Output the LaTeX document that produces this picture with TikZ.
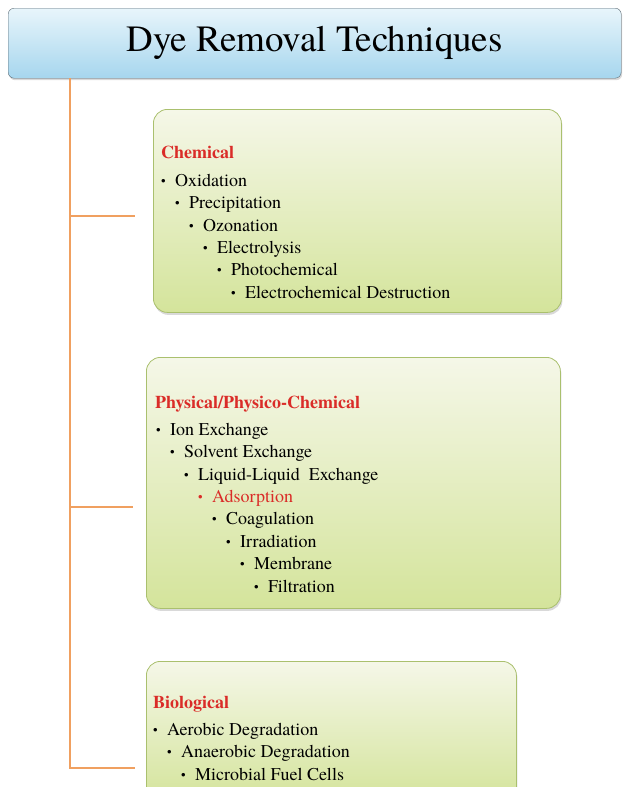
\documentclass[tikz,border=0pt]{standalone}
\usepackage{fontspec}
\setmainfont{texgyretermes}[Extension=.otf, UprightFont=*-regular, BoldFont=*-bold, ItalicFont=*-italic, BoldItalicFont=*-bolditalic]
\usepackage{xcolor}
\usetikzlibrary{shadows}
\definecolor{dyeRed}{RGB}{218,44,40}
\definecolor{dyeOrange}{RGB}{240,160,96}
\definecolor{dyeBlueTop}{RGB}{232,245,251}
\definecolor{dyeBlueBot}{RGB}{166,214,238}
\definecolor{dyeGreenTop}{RGB}{245,247,232}
\definecolor{dyeGreenBot}{RGB}{212,228,155}
\definecolor{dyeGreenLine}{RGB}{170,192,110}
\definecolor{dyeGrey}{RGB}{90,105,115}
\newcommand{\bul}{\makebox[14pt][l]{\raisebox{1pt}{\fontsize{13}{13}\selectfont\textbullet}}}

\begin{document}
\begin{tikzpicture}[
    x=1pt, y=-1pt,
    header/.style={rectangle, rounded corners=6pt, draw=dyeGrey, top color=dyeBlueTop, bottom color=dyeBlueBot, drop shadow={shadow xshift=1pt, shadow yshift=-2pt, opacity=0.3}, minimum width=613pt, minimum height=70pt, font=\fontsize{37}{37}\selectfont},
    group/.style={rectangle, rounded corners=14pt, draw=dyeGreenLine, line width=0.8pt, top color=dyeGreenTop, bottom color=dyeGreenBot, drop shadow={shadow xshift=1pt, shadow yshift=-2.5pt, opacity=0.3}, anchor=north west, inner sep=0},
    head/.style={anchor=base west, inner sep=0, text=dyeRed, font=\fontsize{18}{18}\selectfont\bfseries},
    item/.style={anchor=base west, inner sep=0, font=\fontsize{18}{18}\selectfont},
    branch/.style={draw=dyeOrange, line width=1.6pt}
]
\useasboundingbox (0,0) rectangle (622,787);

% Title (top)
\node[header, anchor=north west] (title) at (8,8) {Dye Removal Techniques};

% Group boxes
\node[group, minimum width=408pt, minimum height=203pt] (chem) at (153,109) {};
\node[group, minimum width=414pt, minimum height=251pt] (phys) at (146,357) {};
\node[group, minimum width=370pt, minimum height=140pt] (bio) at (146,661) {};

% Chemical
\node[head] (chemhead) at (161,158) {Chemical};
\node[item] (oxid) at (161,186) {\bul Oxidation};
\node[item] (precip) at (175,208) {\bul Precipitation};
\node[item] (ozon) at (189,231) {\bul Ozonation};
\node[item] (electro) at (203,253) {\bul Electrolysis};
\node[item] (photo) at (217,275) {\bul Photochemical};
\node[item] (destr) at (231,298) {\bul Electrochemical Destruction};

% Physical/Physico-Chemical
\node[head] (physhead) at (155,408) {Physical/Physico-Chemical};
\node[item] (ion) at (156,435) {\bul Ion Exchange};
\node[item] (solvent) at (170,457) {\bul Solvent Exchange};
\node[item] (liquid) at (184,480) {\bul Liquid-Liquid\ \ Exchange};
\node[item, text=dyeRed] (adsorp) at (198,502) {\bul Adsorption};
\node[item] (coag) at (212,524) {\bul Coagulation};
\node[item] (irrad) at (226,547) {\bul Irradiation};
\node[item] (membr) at (240,569) {\bul Membrane};
\node[item] (filtr) at (254,592) {\bul Filtration};

% Biological
\node[head] (biohead) at (153,708) {Biological};
\node[item] (aerob) at (153,735) {\bul Aerobic Degradation};
\node[item] (anaerob) at (167,757) {\bul Anaerobic Degradation};
\node[item] (fuel) at (181,780) {\bul Microbial Fuel Cells};

% Branch lines (orange)
\coordinate (spine) at (70,78);
\coordinate (chemend) at (135,216);
\coordinate (physend) at (133,507);
\coordinate (bioend) at (135,768);
\draw[branch] (spine) |- (bioend);
\draw[branch] (spine |- chemend) -- (chemend);
\draw[branch] (spine |- physend) -- (physend);

\end{tikzpicture}
\end{document}
